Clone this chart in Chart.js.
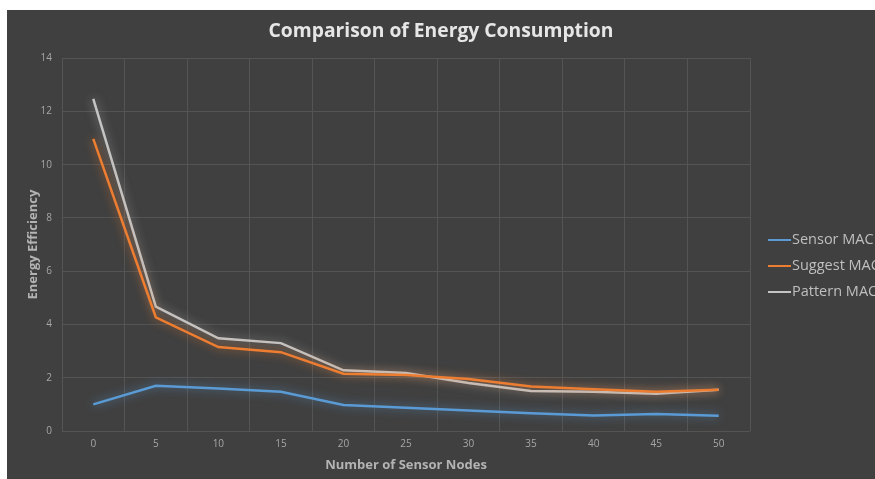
<!DOCTYPE html>
<html>
<head>
<meta charset="utf-8">
<script src="https://cdn.jsdelivr.net/npm/chart.js@4"></script>
<style>
  html, body { margin: 0; padding: 0; background: #ffffff; overflow: hidden; }
  #wrap { position: absolute; left: 7px; top: 10px; width: 868px; height: 469px; background: #404040; }
</style>
</head>
<body>
<div id="wrap"><canvas id="energyChart" width="868" height="469"></canvas></div>
<script>
const nodes = ['0', '5', '10', '15', '20', '25', '30', '35', '40', '45', '50'];
const sensorMac = [1.0, 1.7, 1.6, 1.47, 0.98, 0.87, 0.77, 0.67, 0.58, 0.64, 0.57];
const suggestMac = [10.97, 4.27, 3.15, 2.96, 2.15, 2.1, 1.95, 1.67, 1.57, 1.47, 1.55];
const patternMac = [12.47, 4.67, 3.48, 3.3, 2.28, 2.18, 1.8, 1.5, 1.47, 1.4, 1.55];

const tickColor = '#a6a6a6';
const gridColor = '#545454';

// soft glow around each line
const glow = {
    id: 'glow',
    beforeDatasetDraw(chart, args) {
        const ds = chart.data.datasets[args.index];
        chart.ctx.save();
        chart.ctx.shadowColor = ds.glowColor;
        chart.ctx.shadowBlur = 10;
    },
    afterDatasetDraw(chart) {
        chart.ctx.restore();
    }
};

// legend on the right, runs past the edge like the original
const sideLegend = {
    id: 'sideLegend',
    afterDraw(chart) {
        const ctx = chart.ctx;
        const x = chart.chartArea.right + 18;
        ctx.save();
        ctx.font = '14.5px "Open Sans"';
        ctx.textBaseline = 'middle';
        chart.data.datasets.forEach((ds, i) => {
            const y = 230 + i * 26;
            ctx.strokeStyle = ds.borderColor;
            ctx.lineWidth = 2;
            ctx.beginPath();
            ctx.moveTo(x, y);
            ctx.lineTo(x + 23, y);
            ctx.stroke();
            ctx.fillStyle = '#bfbfbf';
            ctx.fillText(ds.label, x + 24, y);
        });
        ctx.restore();
    }
};

new Chart(document.getElementById('energyChart'), {
    type: 'line',
    data: {
        labels: nodes,
        datasets: [
            { label: 'Sensor MAC', data: sensorMac, borderColor: '#5b9bd5', glowColor: 'rgba(91,155,213,0.7)' },
            { label: 'Suggest MAC', data: suggestMac, borderColor: '#ed7d31', glowColor: 'rgba(237,125,49,0.7)' },
            { label: 'Pattern MAC', data: patternMac, borderColor: '#c4c4c4', glowColor: 'rgba(200,200,200,0.6)' }
        ].map(d => Object.assign(d, { borderWidth: 2.5, pointRadius: 0, tension: 0, fill: false }))
    },
    options: {
        responsive: false,
        animation: false,
        layout: { padding: 0 },
        plugins: {
            legend: { display: false },
            tooltip: { enabled: false },
            title: {
                display: true,
                text: 'Comparison of Energy Consumption',
                color: '#e6e6e6',
                font: { family: '"Open Sans"', size: 19.3, weight: 'bold' },
                padding: { top: 10, bottom: 15 }
            }
        },
        scales: {
            x: {
                offset: true,
                grid: { color: gridColor, offset: true, drawTicks: false },
                border: { display: false },
                ticks: { color: tickColor, font: { family: '"Open Sans"', size: 10 }, padding: 7 },
                title: {
                    display: true,
                    text: 'Number of Sensor Nodes',
                    color: '#b3b3b3',
                    font: { family: '"Open Sans"', size: 13, weight: 'bold' },
                    padding: { top: 0, bottom: 6 }
                },
                afterFit(s) { s.height = 48; }
            },
            y: {
                min: 0,
                max: 14,
                ticks: { stepSize: 2, color: tickColor, font: { family: '"Open Sans"', size: 10 }, padding: 10 },
                grid: { color: gridColor, drawTicks: false },
                border: { display: false },
                title: {
                    display: true,
                    text: 'Energy Efficiency',
                    color: '#b3b3b3',
                    font: { family: '"Open Sans"', size: 13, weight: 'bold' },
                    padding: { top: 18, bottom: 0 }
                },
                afterFit(s) { s.width = 55; }
            },
            space: {
                position: 'right',
                display: true,
                grid: { display: false },
                border: { display: false },
                ticks: { display: false },
                afterFit(s) { s.width = 125; }
            }
        }
    },
    plugins: [glow, sideLegend]
});
</script>
</body>
</html>
